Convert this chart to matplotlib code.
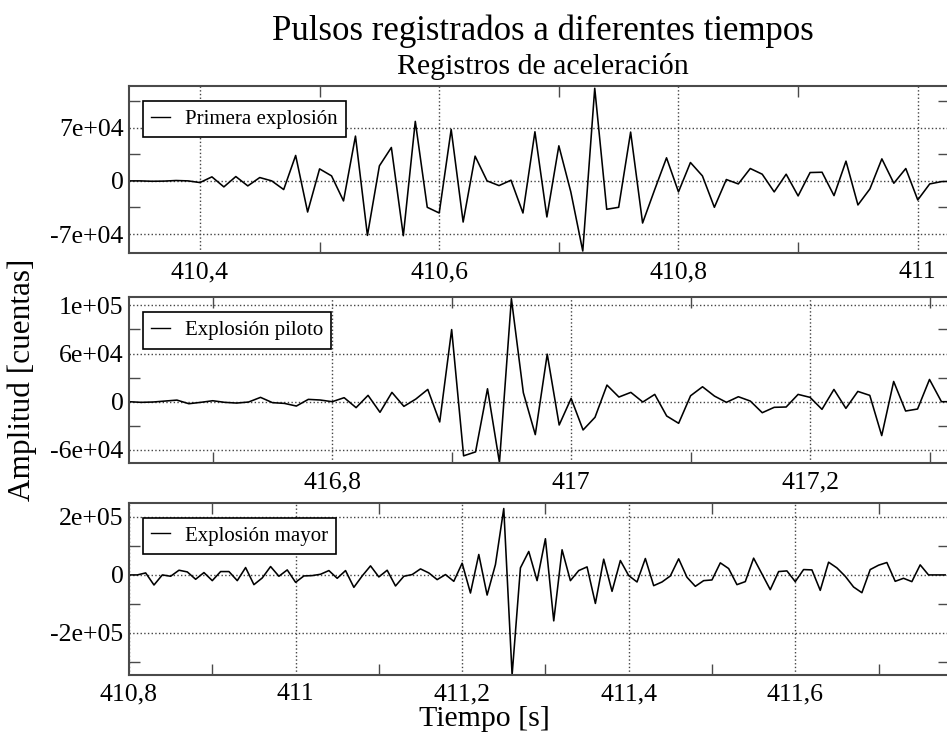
import numpy as np
import matplotlib
matplotlib.use("Agg")
import matplotlib.pyplot as plt
from matplotlib.ticker import FixedLocator, FuncFormatter

# ---------------- data ----------------
dt = 0.01
t0_primera = 410.34
primera = [0, 0, -500, -300, 500, 0, -2200, 5300, -7900, 5700,
           -6600, 4400, 0, -11400, 33500, -41000, 15800, 6600, -26400, 59000,
           -71800, 19800, 44000, -72200, 78400, -34800, -42300, 67800, -54200, 32600,
           0, -6200, 900, -42300, 64700, -47500, 46200, -14500, -92400, 122000,
           -37400, -34800, 64300, -55500, -12000, 30400, -14500, 24200, 6600, -34800,
           1800, -4000, 16300, 8800, -14500, 8800, -19800, 11000, 11400, -19400,
           26000, -31700, -10600, 29000, -3100, 16300, -25100, -4000, -900, -500]

t0_piloto = 416.63
piloto = [0, -800, -400, 800, 2000, -2500, -800, 1200, -800, -1700,
          -400, 5400, -1200, -2100, -5400, 2900, 2100, 0, 5000, -7400,
          7900, -13200, 11600, -5800, 3300, 15300, -25200, 89800, -67400, -62500,
          16100, -75700, 128300, 11200, -41000, 59200, -29000, 4100, -35200, -19400,
          20700, 5800, 11600, -400, 9100, -17800, -26900, 7400, 18600, 7000,
          -800, 6200, 800, -13700, -7000, -6600, 9100, 5400, -9500, 15300,
          -8300, 12800, 7900, -42200, 25200, -11600, -9100, 27700, 0, 0]

t0_mayor = 410.80
mayor = [0, 0, 6900, -34700, 0, -4600, 16200, 10400, -15000, 8100,
         -19700, 11600, 11600, -19700, 25400, -33500, -10400, 28900, -4600, 17300,
         -25400, -3500, -2300, 2300, 15000, -11600, 15000, -42800, -3500, 31200,
         -6900, 16200, -38100, -4600, 1200, 20800, 6900, -16200, 1200, -22000,
         40500, -62400, 70500, -69400, 35800, 228900, -345000, 24300, 80900, -19700,
         124800, -158400, 86700, -19700, 15000, 27700, -98300, 54300, -56600, 49700,
         -2300, -24300, 56600, -37000, -24300, -3500, 55500, -8100, -39300, -19700,
         -17300, 41600, 22000, -33500, -23100, 57800, 3500, -50900, 11600, 13900,
         -23100, 18500, 17300, -53200, 43900, 24300, -4600, -41600, -61300, 18500,
         33500, 42800, -22000, -11600, -23100, 34700, 0, 0, 0]

labels = ["Primera explosión", "Explosión piloto", "Explosión mayor"]

xlims = [(410.3407, 411.0257), (416.6299, 417.3159), (410.80, 411.784)]
ylims = [(-95000, 125000), (-76700, 130000), (-345000, 249000)]
x_major = [[410.4, 410.6, 410.8, 411.0],
           [416.8, 417.0, 417.2],
           [410.8, 411.0, 411.2, 411.4, 411.6]]
x_minor = [[410.5, 410.7, 410.9],
           [416.7, 416.9, 417.1, 417.3],
           [410.9, 411.1, 411.3, 411.5, 411.7]]
y_major = [[-70000, 0, 70000],
           [-60000, 0, 60000, 120000],
           [-200000, 0, 200000]]
y_minor = [[-35000, 35000, 105000],
           [-30000, 30000, 90000],
           [-300000, -100000, 100000]]

series = [(t0_primera, primera), (t0_piloto, piloto), (t0_mayor, mayor)]

# ---------------- figure ----------------
plt.rcParams['font.family'] = ['Liberation Serif', 'DejaVu Serif']

W, H = 947, 748
fig = plt.figure(figsize=(W / 100, H / 100), dpi=100)

left = 129 / W
width = (948.5 - 129) / W
boxes = [(86, 253), (297.3, 463.3), (502.7, 675)]

spine_col = '#4a4a4a'


def xfmt(v, pos):
    s = ('%.1f' % v).rstrip('0').rstrip('.')
    return s.replace('.', ',')


def yfmt(v, pos):
    if abs(v) < 1e-9:
        return '0'
    return '%.0e' % v


for i, ((top, bot), (t0, vals)) in enumerate(zip(boxes, series)):
    ax = fig.add_axes([left, 1 - bot / H, width, (bot - top) / H])
    t = t0 + dt * np.arange(len(vals))
    ax.plot(t, vals, color='black', lw=1.15, label=labels[i])
    ax.set_xlim(*xlims[i])
    ax.set_ylim(*ylims[i])
    ax.xaxis.set_major_locator(FixedLocator(x_major[i]))
    ax.xaxis.set_minor_locator(FixedLocator(x_minor[i]))
    ax.yaxis.set_major_locator(FixedLocator(y_major[i]))
    ax.yaxis.set_minor_locator(FixedLocator(y_minor[i]))
    ax.xaxis.set_major_formatter(FuncFormatter(xfmt))
    ax.yaxis.set_major_formatter(FuncFormatter(yfmt))
    ax.grid(True, which='major', linestyle=':', color='#444444', lw=1.0)
    ax.tick_params(which='both', direction='in', top=True, right=True,
                   labelsize=18.5, color=spine_col)
    ax.tick_params(which='major', length=0)
    ax.tick_params(axis='x', which='major', pad=6)
    ax.tick_params(axis='y', which='major', pad=4)
    ax.tick_params(which='minor', length=8, width=1.0)
    for sp in ax.spines.values():
        sp.set_color(spine_col)
        sp.set_linewidth(1.5)
    leg = ax.legend(loc='upper left', fontsize=15, frameon=True, fancybox=False,
                    framealpha=1, edgecolor='black', handlelength=0.9,
                    handletextpad=0.7, borderpad=0.4,
                    bbox_to_anchor=(14 / 819.5, 1 - 15 / (bot - top)),
                    borderaxespad=0)
    leg.get_frame().set_linewidth(1.2)
    for ln in leg.get_lines():
        ln.set_linewidth(1.0)

fig.text(543 / W, 1 - 31 / H, 'Pulsos registrados a diferentes tiempos',
         ha='center', va='center', fontsize=25)
fig.text(543 / W, 1 - 67 / H, 'Registros de aceleración',
         ha='center', va='center', fontsize=21.5)
fig.text(484 / W, 1 - 719 / H, 'Tiempo [s]', ha='center', va='center', fontsize=21.5)
fig.text(22 / W, 1 - 380 / H, 'Amplitud [cuentas]', ha='center', va='center',
         rotation=90, fontsize=22.5)

fig.savefig('out.png', dpi=100)
